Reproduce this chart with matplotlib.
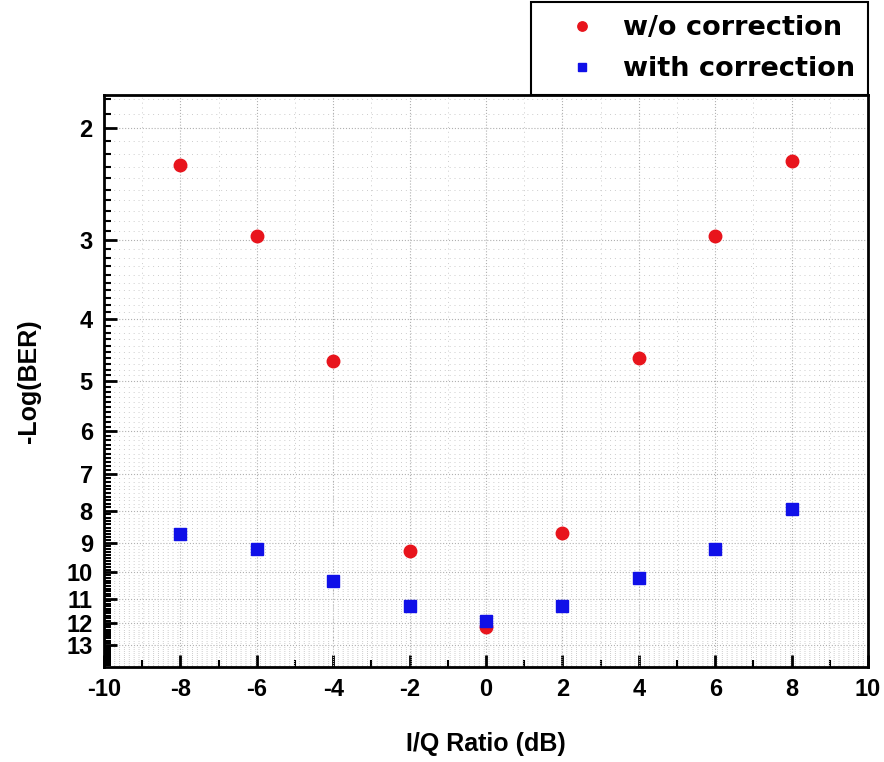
import numpy as np
import matplotlib
matplotlib.use("Agg")
import matplotlib.pyplot as plt
from matplotlib.ticker import FixedLocator, MultipleLocator, NullFormatter

plt.rcParams['font.family'] = ['Liberation Sans', 'DejaVu Sans']
plt.rcParams['font.weight'] = 'bold'
plt.rcParams['axes.unicode_minus'] = False

# I/Q ratio (dB)
iq_ratio = [-8, -6, -4, -2, 0, 2, 4, 6, 8]

# -Log(BER) values
ber_without = [2.29, 2.96, 4.65, 9.25, 12.2, 8.67, 4.60, 2.96, 2.25]
ber_with = [8.70, 9.18, 10.3, 11.3, 11.9, 11.3, 10.2, 9.18, 7.94]

y_ticks = [2, 3, 4, 5, 6, 7, 8, 9, 10, 11, 12, 13]

fig = plt.figure(figsize=(8.84, 7.62), dpi=100)
ax = fig.add_axes([0.1176, 0.1247, 0.8644, 0.7506])

ax.plot(iq_ratio, ber_without, 'o', color='#e8141c', markersize=9,
        label='w/o correction')
ax.plot(iq_ratio, ber_with, 's', color='#1010e8', markersize=8,
        label='with correction')

ax.set_yscale('log')
ax.set_ylim(14.08, 1.775)
ax.set_xlim(-10, 10)

ax.yaxis.set_major_locator(FixedLocator(y_ticks))
ax.set_yticklabels([str(t) for t in y_ticks])
ax.yaxis.set_minor_locator(FixedLocator(np.arange(1.8, 14.05, 0.1)))
ax.yaxis.set_minor_formatter(NullFormatter())
ax.xaxis.set_major_locator(MultipleLocator(2))
ax.xaxis.set_minor_locator(MultipleLocator(1))

ax.tick_params(which='major', direction='in', length=9, width=2,
               labelsize=17, pad=8)
ax.tick_params(which='minor', direction='in', length=5, width=1.5)
for lab in ax.get_xticklabels() + ax.get_yticklabels():
    lab.set_fontweight('bold')

for sp in ax.spines.values():
    sp.set_linewidth(2)

ax.grid(which='major', linestyle=':', color='#b0b0b0', linewidth=0.8)
ax.grid(which='minor', linestyle=(0, (1, 4)), color='#cccccc', linewidth=0.7)
ax.set_axisbelow(True)

ax.set_xlabel('I/Q Ratio (dB)', fontsize=18, fontweight='bold', labelpad=22)
ax.set_ylabel('-Log(BER)', fontsize=18, fontweight='bold', labelpad=18)

leg = ax.legend(loc='lower right', bbox_to_anchor=(1.0, 1.0), borderaxespad=0,
                fancybox=False, framealpha=1, edgecolor='black',
                prop={'family': 'DejaVu Sans', 'size': 19.5, 'weight': 'bold'},
                handletextpad=0.1, handlelength=2.8,
                borderpad=0.48, labelspacing=0.55, markerscale=0.75)
leg.get_frame().set_linewidth(1.5)

fig.savefig('out.png', dpi=100)
